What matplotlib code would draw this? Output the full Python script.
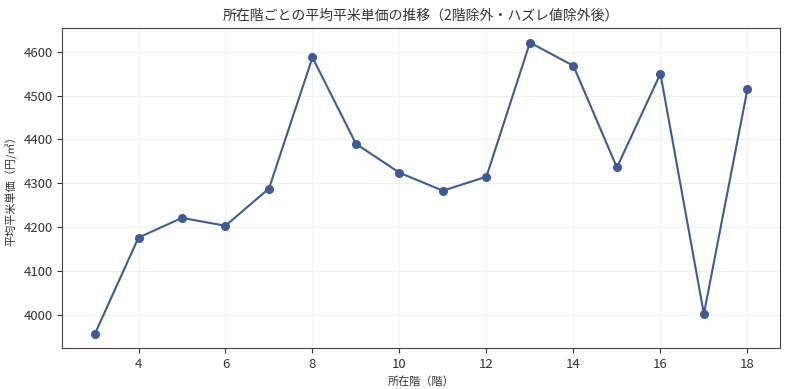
import matplotlib.pyplot as plt

plt.rcParams['font.family'] = ['Noto Sans CJK JP', 'DejaVu Sans']
plt.rcParams['text.color'] = '#333333'
plt.rcParams['axes.labelcolor'] = '#333333'
plt.rcParams['xtick.color'] = '#333333'
plt.rcParams['ytick.color'] = '#333333'
plt.rcParams['axes.edgecolor'] = '#444444'

# === DATA ===
floors = [3, 4, 5, 6, 7, 8, 9, 10, 11, 12, 13, 14, 15, 16, 17, 18]
avg_price = [3957, 4176, 4221, 4203, 4288, 4587, 4390, 4324, 4283, 4315,
             4621, 4568, 4336, 4550, 4002, 4514]

# === PLOT ===
fig, ax = plt.subplots(figsize=(8, 3.89), dpi=100)
ax.plot(floors, avg_price, marker="o", color="#3f5a9a", linewidth=1.5, markersize=5.5)
ax.set_title("所在階ごとの平均平米単価の推移（2階除外・ハズレ値除外後）", fontsize=10)
ax.set_xlabel("所在階（階）", fontsize=8)
ax.set_ylabel("平均平米単価（円/㎡）", fontsize=8)
ax.tick_params(labelsize=9.5)
ax.grid(True, color="#f0f0f0", linewidth=0.8)

fig.subplots_adjust(left=0.078, right=0.975, top=0.928, bottom=0.105)
plt.savefig("out.png")
plt.close()
